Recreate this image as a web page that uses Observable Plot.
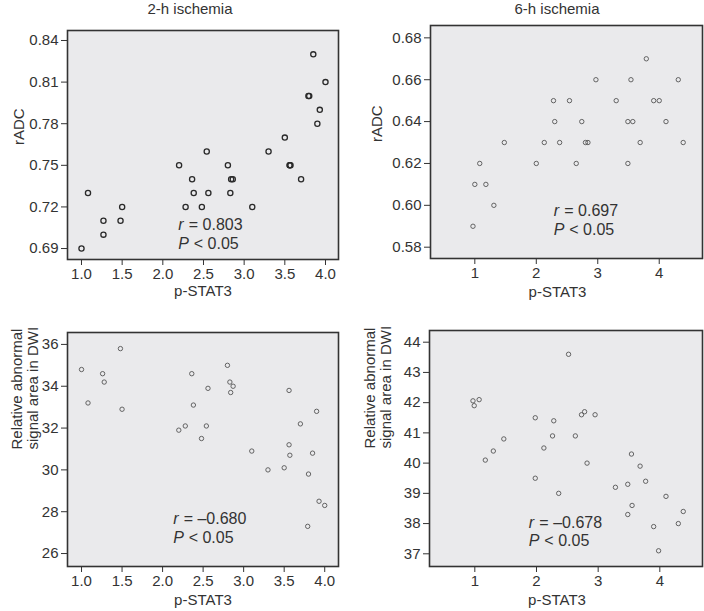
<!DOCTYPE html>
<html>
<head>
<meta charset="utf-8">
<script src="https://cdn.jsdelivr.net/npm/d3@7"></script>
<script src="https://cdn.jsdelivr.net/npm/@observablehq/plot@0.6"></script>
<style>
  html, body { margin: 0; padding: 0; background: #fff; }
  #wrap { position: relative; width: 704px; height: 611px; font-family: "Liberation Sans", Arial, sans-serif; color: #333; }
  .panel { position: absolute; }
  .title { position: absolute; font-size: 15px; line-height: 18px; text-align: center; width: 200px; }
</style>
</head>
<body>
<div id="wrap">
  <div class="title" style="left:90px; top:0px;">2-h ischemia</div>
  <div class="title" style="left:457px; top:0px;">6-h ischemia</div>
</div>
<script>
// ---- Data ----
const stat2hA = [1.0, 1.08, 1.27, 1.27, 1.48, 1.5, 2.2, 2.28, 2.36, 2.38, 2.48, 2.54, 2.56, 2.8, 2.83, 2.84, 2.86, 3.1, 3.3, 3.5, 3.56, 3.56, 3.57, 3.7, 3.79, 3.8, 3.85, 3.9, 3.93, 4.0];
const radc2h  = [0.69, 0.73, 0.71, 0.70, 0.71, 0.72, 0.75, 0.72, 0.74, 0.73, 0.72, 0.76, 0.73, 0.75, 0.73, 0.74, 0.74, 0.72, 0.76, 0.77, 0.75, 0.75, 0.75, 0.74, 0.80, 0.80, 0.83, 0.78, 0.79, 0.81];

const stat6hA = [0.97, 1.0, 1.08, 1.18, 1.31, 1.48, 2.0, 2.13, 2.28, 2.30, 2.38, 2.54, 2.65, 2.74, 2.80, 2.84, 2.97, 3.30, 3.49, 3.49, 3.54, 3.57, 3.69, 3.79, 3.91, 4.0, 4.11, 4.31, 4.39];
const radc6h  = [0.59, 0.61, 0.62, 0.61, 0.60, 0.63, 0.62, 0.63, 0.65, 0.64, 0.63, 0.65, 0.62, 0.64, 0.63, 0.63, 0.66, 0.65, 0.64, 0.62, 0.66, 0.64, 0.63, 0.67, 0.65, 0.65, 0.64, 0.66, 0.63];

const stat2hB = [1.0, 1.08, 1.26, 1.28, 1.48, 1.5, 2.2, 2.28, 2.36, 2.38, 2.48, 2.54, 2.56, 2.8, 2.83, 2.84, 2.87, 3.1, 3.3, 3.5, 3.56, 3.56, 3.57, 3.7, 3.8, 3.79, 3.85, 3.9, 3.93, 4.0];
const dwi2h   = [34.8, 33.2, 34.6, 34.2, 35.8, 32.9, 31.9, 32.1, 34.6, 33.1, 31.5, 32.1, 33.9, 35.0, 34.2, 33.7, 34.0, 30.9, 30.0, 30.1, 33.8, 31.2, 30.7, 32.2, 29.8, 27.3, 30.8, 32.8, 28.5, 28.3];

const stat6hB = [0.97, 0.99, 1.07, 1.17, 1.30, 1.47, 1.98, 1.98, 2.12, 2.26, 2.28, 2.36, 2.52, 2.63, 2.73, 2.78, 2.82, 2.95, 3.28, 3.48, 3.48, 3.54, 3.55, 3.68, 3.77, 3.90, 3.98, 4.10, 4.30, 4.38];
const dwi6h   = [42.06, 41.9, 42.1, 40.1, 40.4, 40.8, 41.5, 39.5, 40.5, 40.9, 41.4, 39.0, 43.6, 40.9, 41.6, 41.7, 40.0, 41.6, 39.2, 39.3, 38.3, 40.3, 38.6, 39.9, 39.4, 37.9, 37.1, 38.9, 38.0, 38.4];

const xTicks2h = [1.0, 1.5, 2.0, 2.5, 3.0, 3.5, 4.0];
const xTicks6h = [1, 2, 3, 4];
const yTicksRadc2h = [0.69, 0.72, 0.75, 0.78, 0.81, 0.84];
const yTicksRadc6h = [0.58, 0.60, 0.62, 0.64, 0.66, 0.68];
const yTicksDwi2h = [26, 28, 30, 32, 34, 36];
const yTicksDwi6h = [37, 38, 39, 40, 41, 42, 43, 44];

const rValues = ["= 0.803", "= 0.697", "= \u20130.680", "= \u20130.678"];
const pText = "< 0.05";
const xLabel = "p-STAT3";
const yLabelTop = "rADC";
const yLabelBottom = "Relative abnormal\nsignal area in DWI";

// ---- Panel layout ----
const panels = [
  {left: 0, top: 0, width: 352, height: 305, m: [30, 14, 46, 67],
   xs: stat2hA, ys: radc2h, xd: [0.828, 4.16], yd: [0.6821, 0.8472],
   xt: xTicks2h, xf: d3.format(".1f"), yt: yTicksRadc2h, yf: d3.format(".2f"),
   ylab: yLabelTop, ylabDx: -49, xlabDx: 0, xlabDy: 36,
   ann: [2.19, 0.7073, 0.6936], r: rValues[0], dot: {r: 2.6, stroke: "#2a2a2a", strokeWidth: 1.3}},
  {left: 352, top: 0, width: 352, height: 305, m: [25, 2, 47, 78],
   xs: stat6hA, ys: radc6h, xd: [0.279, 4.704], yd: [0.5746, 0.6859],
   xt: xTicks6h, xf: d3.format("d"), yt: yTicksRadc6h, yf: d3.format(".2f"),
   ylab: yLabelTop, ylabDx: -54, xlabDx: -9, xlabDy: 38,
   ann: [2.285, 0.5975, 0.5883], r: rValues[1], dot: {r: 2.2, stroke: "#555", strokeWidth: 0.9}},
  {left: 0, top: 305, width: 352, height: 306, m: [27, 14, 45, 67],
   xs: stat2hB, ys: dwi2h, xd: [0.827, 4.17], yd: [25.38, 36.57],
   xt: xTicks2h, xf: d3.format(".1f"), yt: yTicksDwi2h, yf: d3.format("d"),
   ylab: yLabelBottom, ylabDx: -43, xlabDx: 0, xlabDy: 38,
   ann: [2.13, 27.66, 26.75], r: rValues[2], dot: {r: 2.2, stroke: "#555", strokeWidth: 0.9}},
  {left: 352, top: 305, width: 352, height: 306, m: [25, 2, 45, 77],
   xs: stat6hB, ys: dwi6h, xd: [0.265, 4.692], yd: [36.58, 44.387],
   xt: xTicks6h, xf: d3.format("d"), yt: yTicksDwi6h, yf: d3.format("d"),
   ylab: yLabelBottom, ylabDx: -52, xlabDx: -9, xlabDy: 38,
   ann: [1.876, 38.01, 37.42], r: rValues[3], dot: {r: 2.2, stroke: "#555", strokeWidth: 0.9}}
];

const wrap = document.getElementById("wrap");
for (const p of panels) {
  const pts = p.xs.map((x, i) => ({x, y: p.ys[i]}));
  const [ax, ry, py] = p.ann;
  const chart = Plot.plot({
    width: p.width, height: p.height,
    marginTop: p.m[0], marginRight: p.m[1], marginBottom: p.m[2], marginLeft: p.m[3],
    style: {fontFamily: "'Liberation Sans', Arial, sans-serif", fontSize: "15px", color: "#333", background: "transparent", overflow: "visible"},
    x: {domain: p.xd},
    y: {domain: p.yd},
    marks: [
      Plot.frame({fill: "#eaeaec", stroke: null}),
      Plot.axisX(p.xt, {tickFormat: p.xf, tickSize: 6, tickPadding: 3, label: null, stroke: "#333", fill: "#333", fontSize: 15}),
      Plot.axisY(p.yt, {tickFormat: p.yf, tickSize: 6, tickPadding: 3, label: null, stroke: "#333", fill: "#333", fontSize: 15}),
      Plot.dot(pts, {x: "x", y: "y", r: p.dot.r, stroke: p.dot.stroke, strokeWidth: p.dot.strokeWidth, fill: "none"}),
      Plot.text(["r"], {x: () => ax, y: () => ry, text: d => d, textAnchor: "start", fontStyle: "italic", fontSize: 16, fill: "#333"}),
      Plot.text([p.r], {x: () => ax, y: () => ry, text: d => d, textAnchor: "start", dx: 10.5, fontSize: 16, fill: "#333"}),
      Plot.text(["P"], {x: () => ax, y: () => py, text: d => d, textAnchor: "start", fontStyle: "italic", fontSize: 16, fill: "#333"}),
      Plot.text([pText], {x: () => ax, y: () => py, text: d => d, textAnchor: "start", dx: 15.5, fontSize: 16, fill: "#333"}),
      Plot.text([xLabel], {text: d => d, frameAnchor: "bottom", dx: p.xlabDx, dy: p.xlabDy, fontSize: 15, fill: "#333"}),
      Plot.text([p.ylab], {text: d => d, frameAnchor: "left", rotate: -90, dx: p.ylabDx, fontSize: 15, fill: "#333", lineHeight: 1.1}),
      Plot.frame({stroke: "#333", strokeWidth: 1.6})
    ]
  });
  const div = document.createElement("div");
  div.className = "panel";
  div.style.left = p.left + "px";
  div.style.top = p.top + "px";
  div.appendChild(chart);
  wrap.appendChild(div);
}
</script>
</body>
</html>
